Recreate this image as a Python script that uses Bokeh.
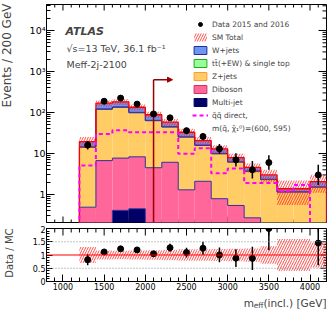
import numpy as np
from bokeh.plotting import figure
from bokeh.layouts import column, row
from bokeh.models import (FixedTicker, Range1d, Label, Legend,
                          LegendItem, Arrow, NormalHead, Span)
from bokeh.embed import file_html
from bokeh.resources import INLINE

FONT = "DejaVu Sans"

# ---------------- data ----------------
bin_low = [1200, 1400, 1600, 1800, 2000, 2200, 2400, 2600, 2800, 3000, 3200, 3400, 3600, 3800, 4000]
bin_width = 200
multijet = [0, 0, 0.41, 0.45, 0, 0, 0, 0, 0, 0, 0, 0, 0, 0, 0]
diboson = [0.49, 6.7, 7.3, 7.85, 4.5, 6.1, 1.3, 2.1, 0.79, 0.54, 0.27, 0.1, 0.05, 0.05, 0.05]
zjets = [13.7, 113, 126, 90, 58.5, 38, 23.7, 13.6, 9.0, 5.6, 3.4, 2.2, 1.09, 1.09, 1.45]
ttbar = [0.3, 2.5, 3.0, 2.5, 1.5, 1.0, 0.6, 0.4, 0.25, 0.15, 0.08, 0.05, 0.03, 0.03, 0.04]
wjets = [5.0, 46.5, 45, 33.5, 23.5, 13, 7.4, 4.6, 2.95, 1.65, 0.82, 0.65, 0.21, 0.21, 0.53]
sm_rel_unc = [0.3, 0.17, 0.16, 0.17, 0.18, 0.2, 0.22, 0.22, 0.23, 0.24, 0.25, 0.33, 0.6, 0.6, 0.47]
data = [16, 188, 224, 160, 92, 74, 36, 26, 13, 7, 4, 6, 0, 0, 3]
signal = [5.1, 30, 37, 33, 33, 33, 9.8, 13.5, 3.3, 4.3, 1.9, 1.9, 1.2, 1.7, 0]
x_ticks = [1000, 1500, 2000, 2500, 3000, 3500, 4000]
y_ticks = [1, 10, 100, 1000, 10000]
y_tick_labels = ["1", "10", "10²", "10³", "10⁴"]
ratio_ticks = [0, 0.5, 1, 1.5, 2]
ratio_tick_labels = ["0", "0.5", "1", "1.5", "2"]
cut_value = 2100
cut_arrow_height = 630
cut_arrow_end = 2330

# ---------------- derived ----------------
FLOOR = 1e-3
X0, X1 = 800, 4200
Y0, Y1 = 0.2075, 43000
lo = np.array(bin_low, float)
hi = lo + bin_width
centers = lo + bin_width / 2
comps = np.array([multijet, diboson, zjets, ttbar, wjets], float)
cum = np.cumsum(comps, axis=0)
total = cum[-1]
unc = np.array(sm_rel_unc)
dat = np.array(data, float)


def step_xy(vals):
    xs, ys = [lo[0]], [FLOOR]
    for l, h, v in zip(lo, hi, vals):
        xs += [l, h]
        ys += [max(v, FLOOR)] * 2
    xs.append(hi[-1])
    ys.append(FLOOR)
    return xs, ys


def style_axis(ax, ticks, minor, labels, size="8px", mi=7, mn=4, standoff=1):
    ax.ticker = FixedTicker(ticks=ticks, minor_ticks=minor)
    ax.major_tick_in = mi
    ax.major_tick_out = 0
    ax.minor_tick_in = mn
    ax.minor_tick_out = 0
    ax.axis_line_color = "black"
    ax.major_tick_line_color = "black"
    ax.minor_tick_line_color = "black"
    ax.axis_label = None
    ax.major_label_text_font = FONT
    ax.major_label_text_font_size = size
    ax.major_label_text_color = "black"
    ax.major_label_standoff = standoff
    ax.major_label_overrides = {t: s for t, s in zip(ticks, labels)}


def blank_fig(w, h, **kw):
    f = figure(width=w, height=h, x_range=Range1d(0, w), y_range=Range1d(0, h),
               x_axis_location=None, y_axis_location=None,
               output_backend="svg", toolbar_location=None, outline_line_color=None, **kw)
    f.grid.visible = False
    return f


x_minor = list(range(800, 4201, 100))
y_minor = [k * 10.0 ** d for d in range(-1, 5) for k in range(2, 10) if Y0 < k * 10.0 ** d < Y1]
r_minor = [i / 10 for i in range(0, 21)]

# frame geometry in pixels (for the mirrored tick lengths)
FW = 280
FH_MAIN = 218
FH_RAT = 53

# ---------------- main panel ----------------
p = figure(width=310, height=225, y_axis_type="log", x_range=Range1d(X0, X1),
           y_range=Range1d(Y0, Y1), output_backend="svg", toolbar_location=None,
           min_border_left=24, min_border_right=6, min_border_top=4, min_border_bottom=3)
p.grid.visible = False
p.outline_line_color = "black"
p.xaxis.visible = False
style_axis(p.yaxis[0], y_ticks, y_minor, y_tick_labels, size="9.5px", mi=8, mn=4, standoff=1)

dec = np.log10(Y1 / Y0)


def logfac(px):
    return 10 ** (px / FH_MAIN * dec)


gev_per_px = (X1 - X0) / FW
xt = np.array(x_ticks, float)
xm = np.array([t for t in x_minor if t not in x_ticks], float)
p.segment(x0=xt, y0=np.full(len(xt), Y1), x1=xt, y1=np.full(len(xt), Y1 / logfac(6)), line_color="black")
p.segment(x0=xm, y0=np.full(len(xm), Y1), x1=xm, y1=np.full(len(xm), Y1 / logfac(3)), line_color="black")
p.segment(x0=xt, y0=np.full(len(xt), Y0), x1=xt, y1=np.full(len(xt), Y0 * logfac(6)), line_color="black")
p.segment(x0=xm, y0=np.full(len(xm), Y0), x1=xm, y1=np.full(len(xm), Y0 * logfac(3)), line_color="black")
yt = np.array(y_ticks, float)
ym = np.array(y_minor, float)
p.segment(x0=np.full(len(yt), X1), y0=yt, x1=np.full(len(yt), X1 - 8 * gev_per_px), y1=yt, line_color="black")
p.segment(x0=np.full(len(ym), X1), y0=ym, x1=np.full(len(ym), X1 - 4 * gev_per_px), y1=ym, line_color="black")

fill_colors = ["#000066", "#ff6699", "#ffcc66", "#99ff99", "#6f94f2"]
for k in range(5):
    bottom = np.maximum(cum[k - 1], FLOOR) if k > 0 else np.full(len(lo), FLOOR)
    p.quad(left=lo, right=hi, bottom=bottom, top=np.maximum(cum[k], FLOOR),
           fill_color=fill_colors[k], line_color=None)
for k in range(4):
    xs, ys = step_xy(cum[k])
    p.line(xs, ys, line_color="#30309a", line_width=1)

band = p.quad(left=lo, right=hi, bottom=total * (1 - unc), top=total * (1 + unc),
              fill_alpha=0, line_alpha=0, hatch_pattern="/", hatch_color="#ff2020",
              hatch_scale=5, hatch_weight=0.8)
xs, ys = step_xy(total)
p.line(xs, ys, line_color="#ff0000", line_width=1.3)

xs, ys = step_xy(signal)
sig_line = p.line(xs, ys, line_color="#ff00ff", line_width=2, line_dash="4 3")

# cut arrow
p.segment(x0=[cut_value], y0=[FLOOR], x1=[cut_value], y1=[cut_arrow_height],
          line_color="#990000", line_width=1.5)
p.add_layout(Arrow(x_start=cut_value, y_start=cut_arrow_height, x_end=cut_arrow_end,
                   y_end=cut_arrow_height, line_color="#990000", line_width=1.5,
                   end=NormalHead(size=5, fill_color="#990000", line_color="#990000")))

# data
has = dat > 0
n = dat[has]
up = np.sqrt(n + 0.25) + 0.5
dn = np.sqrt(n + 0.25) - 0.5
p.segment(x0=centers[has], y0=n - dn, x1=centers[has], y1=n + up, line_color="black", line_width=1.5)
data_r = p.scatter(centers[has], n, size=6, color="black")

# legend proxies (outside the visible x range)
hid = dict(left=[0], right=[1], bottom=[1], top=[2])
leg_w = p.quad(**hid, fill_color=fill_colors[4], line_color="#1f2f9f")
leg_t = p.quad(**hid, fill_color=fill_colors[3], line_color="#22aa22")
leg_z = p.quad(**hid, fill_color=fill_colors[2], line_color="#ff9933")
leg_d = p.quad(**hid, fill_color=fill_colors[1], line_color="#cc3366")
leg_m = p.quad(**hid, fill_color=fill_colors[0], line_color="#000066")
leg_blank = p.line([0, 1], [1, 1], line_alpha=0)

legend = Legend(items=[
    LegendItem(label="Data 2015 and 2016", renderers=[data_r]),
    LegendItem(label="SM Total", renderers=[band]),
    LegendItem(label="W+jets", renderers=[leg_w]),
    LegendItem(label="tt̄(+EW) & single top", renderers=[leg_t]),
    LegendItem(label="Z+jets", renderers=[leg_z]),
    LegendItem(label="Diboson", renderers=[leg_d]),
    LegendItem(label="Multi-jet", renderers=[leg_m]),
    LegendItem(label="q̃q̃ direct,", renderers=[sig_line]),
    LegendItem(label="m(q̃, χ̃₁⁰)=(600, 595)", renderers=[leg_blank]),
], location=(146, 89), orientation="vertical", padding=0, margin=0, spacing=3,
   glyph_width=16, glyph_height=10, label_height=10, label_standoff=4,
   label_text_font=FONT, label_text_font_size="7.5px", label_text_baseline="middle",
   border_line_alpha=0, background_fill_alpha=0)
p.add_layout(legend)

# texts inside the frame (frame-relative screen coordinates, y from frame bottom)
p.add_layout(Label(x=19, y=191, x_units="screen", y_units="screen", text="ATLAS",
                   text_baseline="alphabetic", text_font=FONT,
                   text_font_style="bold italic", text_font_size="11px"))
p.add_layout(Label(x=20, y=174, x_units="screen", y_units="screen", text="√s=13 TeV, 36.1 fb⁻¹",
                   text_baseline="alphabetic", text_font=FONT, text_font_size="9.5px"))
p.add_layout(Label(x=20, y=158, x_units="screen", y_units="screen", text="Meff-2j-2100",
                   text_baseline="alphabetic", text_font=FONT, text_font_size="9.5px"))

# ---------------- ratio panel ----------------
r = figure(width=310, height=70, x_range=p.x_range, y_range=Range1d(0, 2), output_backend="svg",
           toolbar_location=None, min_border_left=24, min_border_right=6, min_border_top=3,
           min_border_bottom=14)
r.grid.visible = False
r.outline_line_color = "black"
style_axis(r.xaxis[0], x_ticks, x_minor, [str(t) for t in x_ticks], size="8px", mi=7, mn=4, standoff=1)
style_axis(r.yaxis[0], ratio_ticks, r_minor, ratio_tick_labels, size="8px", mi=6, mn=3, standoff=1)

rpp = 2.0 / FH_RAT
r.segment(x0=xt, y0=np.full(len(xt), 2), x1=xt, y1=np.full(len(xt), 2 - 7 * rpp), line_color="black")
r.segment(x0=xm, y0=np.full(len(xm), 2), x1=xm, y1=np.full(len(xm), 2 - 4 * rpp), line_color="black")
rt = np.array(ratio_ticks, float)
rm = np.array([t for t in r_minor if t not in ratio_ticks], float)
r.segment(x0=np.full(len(rt), X1), y0=rt, x1=np.full(len(rt), X1 - 6 * gev_per_px), y1=rt, line_color="black")
r.segment(x0=np.full(len(rm), X1), y0=rm, x1=np.full(len(rm), X1 - 3 * gev_per_px), y1=rm, line_color="black")

for lvl in [0.5, 1.5]:
    r.add_layout(Span(location=lvl, dimension="width", line_color="#888888",
                      line_dash="1 2", line_width=1))
r.quad(left=lo, right=hi, bottom=1 - unc, top=1 + unc, fill_alpha=0, line_alpha=0,
       hatch_pattern="/", hatch_color="#ff2020", hatch_scale=5, hatch_weight=0.8)
r.add_layout(Span(location=1, dimension="width", line_color="#ff0000", line_width=1.2))
ratio = n / total[has]
rerr = np.sqrt(n) / total[has]
r.segment(x0=centers[has], y0=ratio - rerr, x1=centers[has], y1=ratio + rerr,
          line_color="black", line_width=1.5)
r.scatter(centers[has], ratio, size=6, color="black")

# ---------------- title strips ----------------
left = blank_fig(22, 309, min_border=0)
left.add_layout(Label(x=6, y=306, x_units="screen", y_units="screen", text="Events / 200 GeV",
                      angle=np.pi / 2, text_align="right", text_baseline="middle",
                      text_font=FONT, text_font_size="12px"))
left.add_layout(Label(x=8.5, y=81, x_units="screen", y_units="screen", text="Data / MC",
                      angle=np.pi / 2, text_align="right", text_baseline="middle",
                      text_font=FONT, text_font_size="10px"))

# bottom strip: frame aligned with the panels above (page x 46..326)
bottom = blank_fig(310, 14, min_border_left=24, min_border_right=6, min_border_top=0,
                   min_border_bottom=0)
bottom.add_layout(Label(x=280, y=6.5, x_units="screen", y_units="screen", text="(incl.) [GeV]",
                        text_align="right", text_baseline="alphabetic",
                        text_font=FONT, text_font_size="10.5px"))
bottom.add_layout(Label(x=217, y=4.5, x_units="screen", y_units="screen", text="eff",
                        text_align="right", text_baseline="alphabetic",
                        text_font=FONT, text_font_size="7.5px"))
bottom.add_layout(Label(x=207.5, y=6.5, x_units="screen", y_units="screen", text="m",
                        text_align="right", text_baseline="alphabetic",
                        text_font=FONT, text_font_size="10.5px"))

layout = row(left, column(p, r, bottom, spacing=0), spacing=0)
open("out.html", "w").write(file_html(layout, INLINE))
